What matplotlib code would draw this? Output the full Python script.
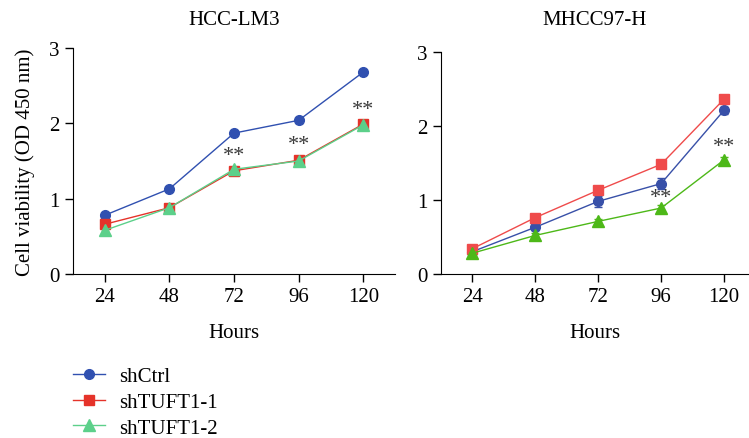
import numpy as np
import matplotlib
matplotlib.use("Agg")
import matplotlib.pyplot as plt
from matplotlib.lines import Line2D

plt.rcParams['font.family'] = ['Liberation Serif', 'DejaVu Serif']

hours = [24, 48, 72, 96, 120]
groups = ['shCtrl', 'shTUFT1-1', 'shTUFT1-2']

# HCC-LM3
lm3_ctrl = [0.78, 1.13, 1.87, 2.04, 2.68]
lm3_sh1 = [0.66, 0.88, 1.37, 1.51, 1.99]
lm3_sh2 = [0.58, 0.88, 1.39, 1.50, 1.98]
lm3_err = [0.02, 0.02, 0.03, 0.03, 0.03]
lm3_star_x = [72, 96, 120]
lm3_star_y = [1.57, 1.72, 2.18]

# MHCC97-H
mh_ctrl = [0.30, 0.63, 0.98, 1.22, 2.21]
mh_sh1 = [0.34, 0.76, 1.13, 1.48, 2.36]
mh_sh2 = [0.28, 0.52, 0.71, 0.89, 1.54]
mh_err_ctrl = [0.02, 0.04, 0.07, 0.07, 0.05]
mh_err = [0.02, 0.03, 0.03, 0.04, 0.04]
mh_star_x = [96, 120]
mh_star_y = [1.03, 1.72]

markers = ['o', 's', '^']
sizes = [7, 7, 8]

fig = plt.figure(figsize=(7.49, 4.39), dpi=100)
ax1 = fig.add_axes([0.0968, 0.3736, 0.4306, 0.5148])
ax2 = fig.add_axes([0.5884, 0.3736, 0.4116, 0.5064])


def draw(ax, data, errs, colors, title, stars, xmax, tpad):
    for vals, err, c, m, s, lab in zip(data, errs, colors, markers, sizes, groups):
        ax.errorbar(hours, vals, yerr=err, color=c, marker=m, markersize=s,
                    lw=1, capsize=3, elinewidth=1, label=lab)
    for x, y in zip(*stars):
        ax.text(x, y, '**', ha='center', va='center', fontsize=16, color='#3a3a3a')
    ax.set_xlim(12, xmax)
    ax.set_ylim(0, 3)
    ax.set_xticks(hours)
    ax.set_yticks([0, 1, 2, 3])
    ax.spines['top'].set_visible(False)
    ax.spines['right'].set_visible(False)
    ax.tick_params(labelsize=15, direction='out', length=6, width=1)
    ax.set_xlabel('Hours', fontsize=15, labelpad=12)
    ax.set_title(title, fontsize=15, pad=tpad)


lm3_colors = ['#3050B0', '#E5332A', '#5CD08A']
draw(ax1, [lm3_ctrl, lm3_sh1, lm3_sh2], [lm3_err, lm3_err, lm3_err],
     lm3_colors, 'HCC-LM3', (lm3_star_x, lm3_star_y), 131.8, 17)
draw(ax2, [mh_ctrl, mh_sh1, mh_sh2], [mh_err_ctrl, mh_err, mh_err],
     ['#3850A8', '#EF4B4B', '#4DB818'], 'MHCC97-H',
     (mh_star_x, mh_star_y), 129.5, 20)
ax1.set_ylabel('Cell viability (OD 450 nm)', fontsize=15, labelpad=10)

handles = [Line2D([], [], color=c, marker=m, markersize=s, lw=1)
           for c, m, s in zip(lm3_colors, markers, sizes)]
fig.legend(handles, groups, loc='upper left', bbox_to_anchor=(0.097, 0.163),
           frameon=False, fontsize=15, handlelength=1.55, labelspacing=0.3,
           handletextpad=0.7, borderaxespad=0, borderpad=0)

fig.savefig('out.png', dpi=100)
